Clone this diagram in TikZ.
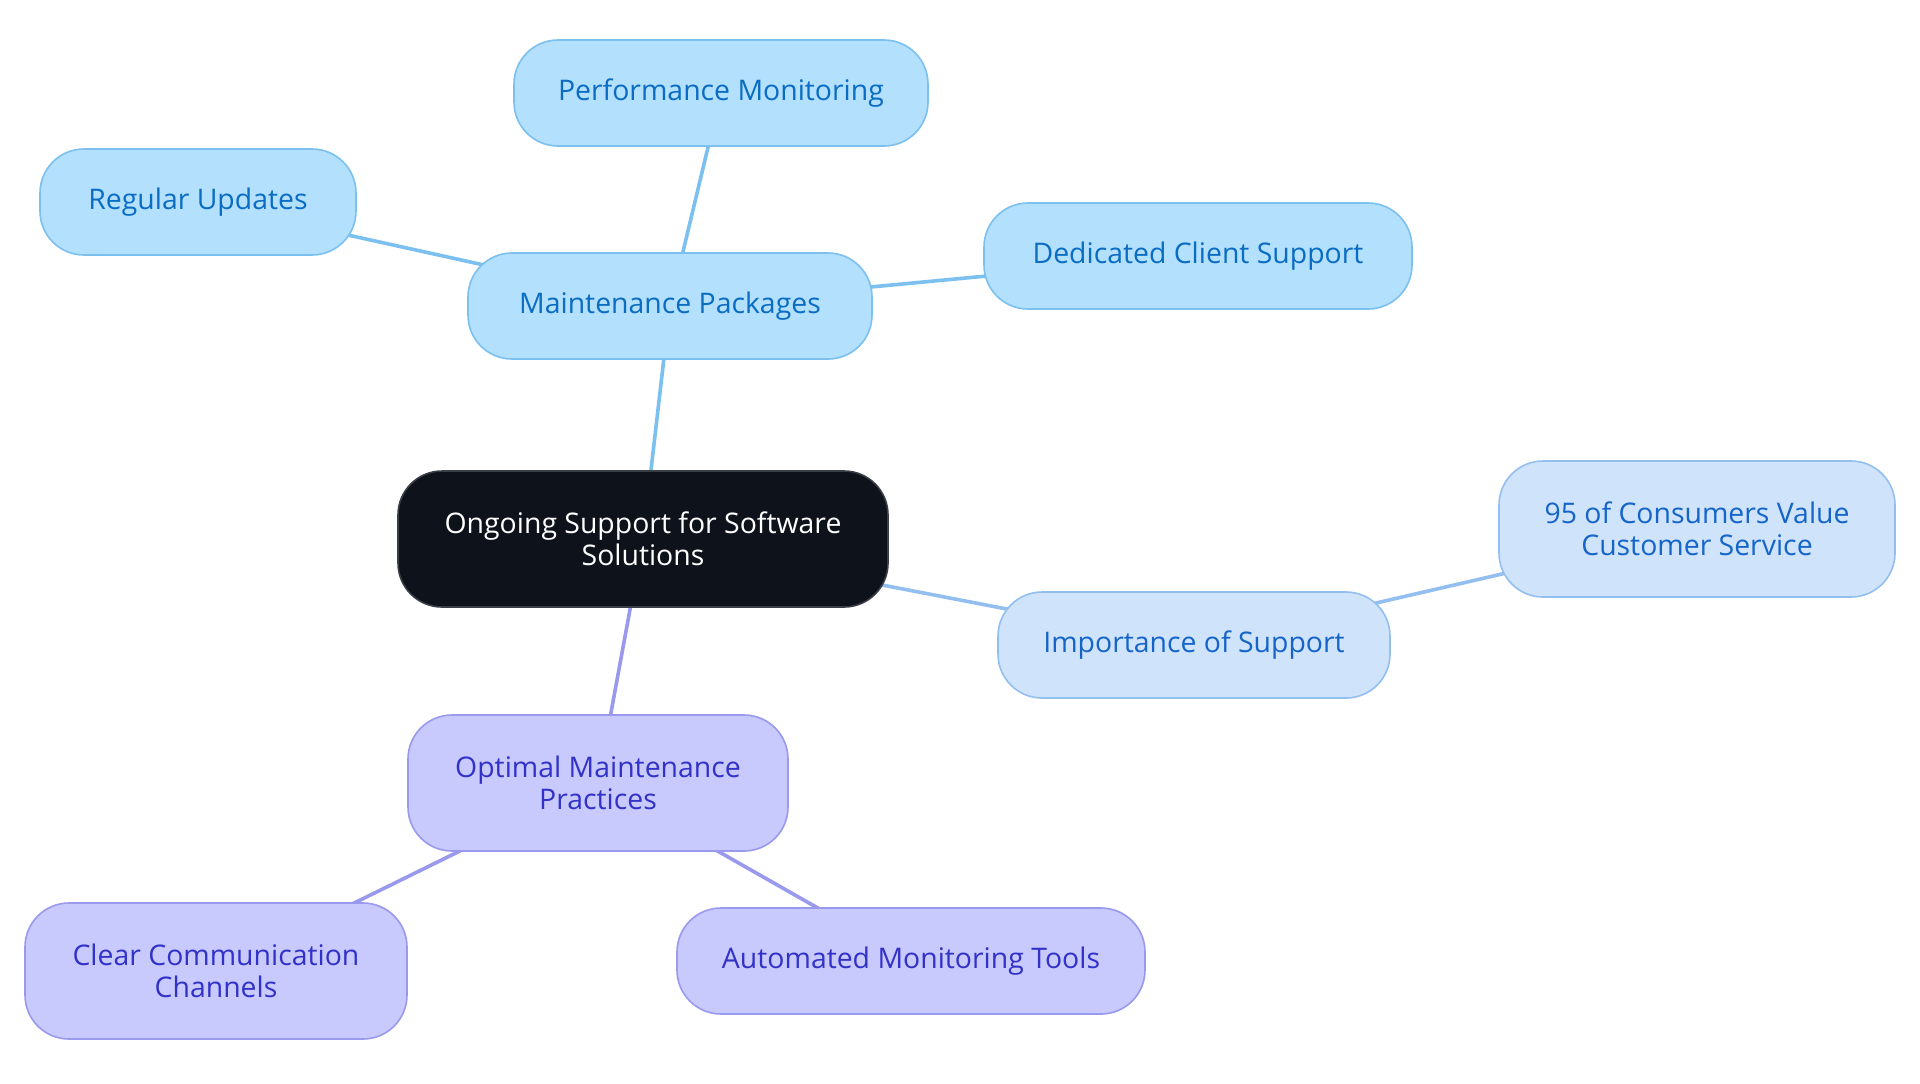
\documentclass[tikz,border=0pt]{standalone}
\usepackage{fontspec}
\setmainfont{Open Sans}
\usetikzlibrary{backgrounds}
\definecolor{rootfill}{HTML}{0D121B}
\definecolor{rootdraw}{HTML}{3A3F47}
\definecolor{bluefill}{HTML}{B3E0FD}
\definecolor{bluedraw}{HTML}{7CC0F0}
\definecolor{bluetext}{HTML}{0A6CC2}
\definecolor{lbfill}{HTML}{CFE3FB}
\definecolor{lbdraw}{HTML}{93BFF0}
\definecolor{lbtext}{HTML}{1565C8}
\definecolor{pfill}{HTML}{C8C9FC}
\definecolor{pdraw}{HTML}{9999EE}
\definecolor{ptext}{HTML}{3232C8}
\tikzset{
  x=0.5pt, y=-0.5pt,
  box/.style={rounded corners=22pt, line width=0.8pt, align=center, inner sep=0pt,
    font=\fontsize{14.2}{15.8}\selectfont},
  rootbox/.style={box, fill=rootfill, draw=rootdraw, text=white},
  bluebox/.style={box, fill=bluefill, draw=bluedraw, text=bluetext},
  lbbox/.style={box, fill=lbfill, draw=lbdraw, text=lbtext},
  pbox/.style={box, fill=pfill, draw=pdraw, text=ptext},
  blueedge/.style={draw=bluedraw, line width=1.8pt},
  lbedge/.style={draw=lbdraw, line width=1.8pt},
  pedge/.style={draw=pdraw, line width=1.8pt},
}
\begin{document}
\begin{tikzpicture}
\useasboundingbox (0,0) rectangle (1920,1083);
\node[rootbox, minimum width=245pt, minimum height=68pt] (root) at (643,539) {Ongoing Support for Software\\Solutions};
\node[bluebox, minimum width=202pt, minimum height=53pt] (mp) at (670,306) {Maintenance Packages};
\node[bluebox, minimum width=207pt, minimum height=53pt] (pm) at (721,93) {Performance Monitoring};
\node[bluebox, minimum width=158pt, minimum height=53pt] (ru) at (198,202) {Regular Updates};
\node[bluebox, minimum width=214pt, minimum height=53pt] (dcs) at (1198,256) {Dedicated Client Support};
\node[lbbox, minimum width=196pt, minimum height=53pt] (imp) at (1194,645) {Importance of Support};
\node[lbbox, minimum width=198pt, minimum height=68pt] (cons) at (1697,529) {95 of Consumers Value\\Customer Service};
\node[pbox, minimum width=190pt, minimum height=68pt] (omp) at (598,783) {Optimal Maintenance\\Practices};
\node[pbox, minimum width=191pt, minimum height=68pt] (ccc) at (216,971) {Clear Communication\\Channels};
\node[pbox, minimum width=234pt, minimum height=53pt] (amt) at (911,961) {Automated Monitoring Tools};
\begin{scope}[on background layer]
\fill[white] (0,0) rectangle (1920,1083);
\draw[blueedge] (root.center) -- (mp.center);
\draw[blueedge] (mp.center) -- (pm.center);
\draw[blueedge] (mp.center) -- (ru.center);
\draw[blueedge] (mp.center) -- (dcs.center);
\draw[lbedge] (root.center) -- (imp.center);
\draw[lbedge] (imp.center) -- (cons.center);
\draw[pedge] (root.center) -- (omp.center);
\draw[pedge] (omp.center) -- (ccc.center);
\draw[pedge] (omp.center) -- (amt.center);
\end{scope}
\end{tikzpicture}
\end{document}
